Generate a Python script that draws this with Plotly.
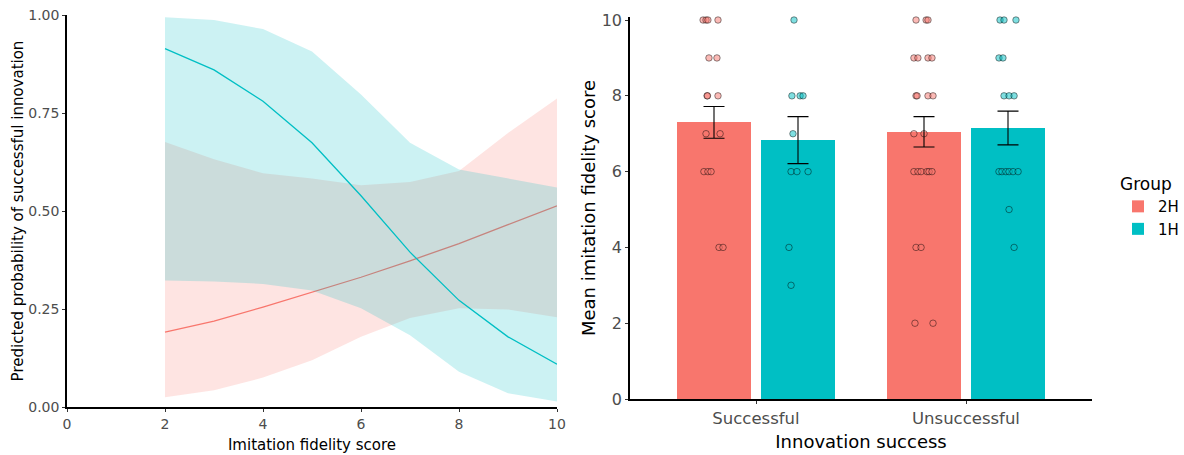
import plotly.graph_objects as go

# ---------------- Left panel data (predicted probabilities) ----------------
fidelity = [2, 3, 4, 5, 6, 7, 8, 9, 10]
prob_2H = [0.191, 0.219, 0.255, 0.293, 0.331, 0.373, 0.417, 0.465, 0.513]
lo_2H = [0.025, 0.043, 0.075, 0.119, 0.179, 0.227, 0.252, 0.249, 0.229]
hi_2H = [0.676, 0.632, 0.596, 0.583, 0.566, 0.574, 0.602, 0.699, 0.787]
prob_1H = [0.914, 0.860, 0.780, 0.674, 0.539, 0.395, 0.272, 0.179, 0.109]
lo_1H = [0.323, 0.320, 0.314, 0.297, 0.252, 0.183, 0.090, 0.035, 0.014]
hi_1H = [0.994, 0.987, 0.964, 0.907, 0.797, 0.674, 0.606, 0.583, 0.560]

left_xticks = [0, 2, 4, 6, 8, 10]
left_yticks = [0, 0.25, 0.5, 0.75, 1.0]

# ---------------- Right panel data (mean imitation fidelity) ----------------
categories = ["Successful", "Unsuccessful"]
groups = ["2H", "1H"]
mean_2H = [7.30, 7.05]
mean_1H = [6.83, 7.15]
se_2H = [0.42, 0.40]
se_1H = [0.62, 0.445]

succ_2H_scores = [10, 10, 10, 10, 9, 9, 8, 8, 8, 7, 7, 6, 6, 6, 4, 4]
succ_2H_jitter = [-0.052, -0.038, -0.029, 0.019, -0.024, 0.014, -0.033, -0.031, 0.019,
                  -0.038, 0.029, -0.048, -0.029, -0.014, 0.024, 0.043]
succ_1H_scores = [10, 8, 8, 8, 7, 6, 6, 6, 4, 3]
succ_1H_jitter = [-0.019, -0.029, 0.010, 0.024, -0.024, -0.033, -0.005, 0.048, -0.043, -0.033]
unsucc_2H_scores = [10, 10, 10, 9, 9, 9, 9, 8, 8, 8, 8, 7, 7, 6, 6, 6, 6, 6, 6, 4, 4, 2, 2]
unsucc_2H_jitter = [-0.038, 0.010, 0.019, -0.048, -0.029, 0.019, 0.038, -0.038, -0.033, 0.019,
                    0.043, -0.048, 0.0, -0.048, -0.029, -0.014, 0.014, 0.024, 0.038,
                    -0.038, -0.014, -0.043, 0.043]
unsucc_1H_scores = [10, 10, 10, 9, 9, 8, 8, 8, 6, 6, 6, 6, 6, 6, 5, 4]
unsucc_1H_jitter = [-0.038, -0.019, 0.038, -0.043, -0.024, -0.019, 0.005, 0.029, -0.043,
                    -0.029, -0.010, 0.005, 0.024, 0.048, 0.005, 0.029]

right_yticks = [0, 2, 4, 6, 8, 10]

# ---------------- Styling ----------------
RED = "#F8766D"
TEAL = "#00BFC4"
FONT = "DejaVu Sans"
TICK_COL = "#4D4D4D"
W, H = 1184, 455

fig = go.Figure()

# ---- Left panel: ribbons + lines ----
for name, col, rgba, lo, hi, pr in [
    ("2H", RED, "rgba(248,118,109,0.2)", lo_2H, hi_2H, prob_2H),
    ("1H", TEAL, "rgba(0,191,196,0.2)", lo_1H, hi_1H, prob_1H),
]:
    fig.add_trace(go.Scatter(
        x=fidelity + fidelity[::-1], y=hi + lo[::-1],
        fill="toself", fillcolor=rgba, line=dict(width=0),
        mode="lines", hoverinfo="skip", showlegend=False,
        xaxis="x", yaxis="y"))
    fig.add_trace(go.Scatter(
        x=fidelity, y=pr, mode="lines", line=dict(color=col, width=1.3),
        showlegend=False, xaxis="x", yaxis="y"))

# ---- Right panel: bars ----
dodge = {"2H": -0.2, "1H": 0.2}
cat_pos = [1, 2]
for g, col, means in [("2H", RED, mean_2H), ("1H", TEAL, mean_1H)]:
    fig.add_trace(go.Bar(
        x=[c + dodge[g] for c in cat_pos], y=means, width=0.35,
        marker=dict(color=col, line=dict(width=0)), name=g,
        showlegend=True, xaxis="x2", yaxis="y2"))

# ---- Right panel: jittered points ----
point_sets = [
    ("2H", 0, succ_2H_scores, succ_2H_jitter, "rgba(248,118,109,0.5)"),
    ("1H", 0, succ_1H_scores, succ_1H_jitter, "rgba(0,191,196,0.5)"),
    ("2H", 1, unsucc_2H_scores, unsucc_2H_jitter, "rgba(248,118,109,0.5)"),
    ("1H", 1, unsucc_1H_scores, unsucc_1H_jitter, "rgba(0,191,196,0.5)"),
]
for g, ci, scores, jit, fc in point_sets:
    fig.add_trace(go.Scatter(
        x=[cat_pos[ci] + dodge[g] + j for j in jit], y=scores, mode="markers",
        marker=dict(size=6.5, color=fc, line=dict(color="rgba(0,0,0,0.55)", width=0.8)),
        showlegend=False, xaxis="x2", yaxis="y2", cliponaxis=False))

# ---- Right panel: error bars ----
for g, means, ses in [("2H", mean_2H, se_2H), ("1H", mean_1H, se_1H)]:
    fig.add_trace(go.Scatter(
        x=[c + dodge[g] for c in cat_pos], y=means, mode="markers",
        marker=dict(size=1, opacity=0),
        error_y=dict(type="data", array=ses, color="black", thickness=1.1, width=10.5),
        showlegend=False, hoverinfo="skip", xaxis="x2", yaxis="y2"))

axis_common = dict(
    showgrid=False, zeroline=False, showline=True, linecolor="black", linewidth=1.5,
    ticks="outside", ticklen=3, tickwidth=1, tickcolor="#333333", automargin=False,
)

fig.update_layout(
    width=W, height=H,
    margin=dict(l=0, r=0, t=0, b=0, pad=0),
    paper_bgcolor="white", plot_bgcolor="white",
    font=dict(family=FONT, color="black"),
    bargap=0,
    xaxis=dict(
        domain=[67 / W, 557 / W], range=[0, 10], anchor="y",
        tickvals=left_xticks, tickfont=dict(size=14, color=TICK_COL),
        title=dict(text="Imitation fidelity score", font=dict(size=15, color="black"), standoff=9),
        **axis_common),
    yaxis=dict(
        domain=[(H - 407) / H, (H - 15) / H], range=[0, 1], anchor="x",
        tickvals=left_yticks, tickformat=".2f", tickfont=dict(size=14, color=TICK_COL),
        title=dict(text="Predicted probability of successful innovation",
                   font=dict(size=15, color="black"), standoff=1),
        **axis_common),
    xaxis2=dict(
        domain=[630 / W, 1092 / W], range=[0.4, 2.6], anchor="y2",
        tickvals=cat_pos, ticktext=categories, tickfont=dict(size=16.5, color=TICK_COL),
        title=dict(text="Innovation success", font=dict(size=18, color="black"), standoff=9),
        **axis_common),
    yaxis2=dict(
        domain=[(H - 399) / H, (H - 17) / H], range=[0, 10.08], anchor="x2",
        tickvals=right_yticks, tickfont=dict(size=16, color=TICK_COL),
        title=dict(text="Mean imitation fidelity score", font=dict(size=18, color="black"), standoff=1),
        **axis_common),
    legend=dict(
        title=dict(text="Group", font=dict(size=17, color="black")),
        font=dict(size=15, color="black"),
        x=1118 / W, xanchor="left", y=(H - 168) / H, yanchor="top",
        bgcolor="rgba(0,0,0,0)", traceorder="normal", tracegroupgap=0,
        itemwidth=30,
    ),
)

fig.write_html("out.html", config={"displayModeBar": False},
               post_script="document.body.style.margin='0';document.body.style.overflow='hidden';")
